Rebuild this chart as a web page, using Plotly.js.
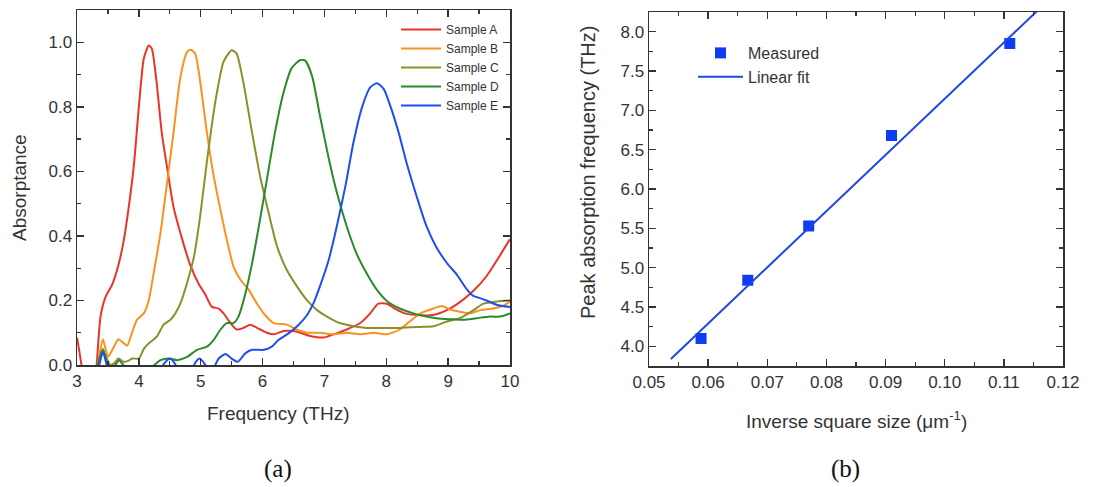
<!DOCTYPE html>
<html>
<head>
<meta charset="utf-8">
<script src="https://cdn.plot.ly/plotly-3.0.1.min.js"></script>
<style>html,body{margin:0;padding:0;background:#fff}#chart{width:1113px;height:487px}</style>
</head>
<body>
<div id="chart"></div>
<script>
// ---- Panel (a): absorptance spectra ----
const sampleNames = ["Sample A", "Sample B", "Sample C", "Sample D", "Sample E"];
const sampleColors = ["#e8342a", "#f7931e", "#8f8f2a", "#2b8a2b", "#1f4ef0"];

const freqA = [3.0,3.04,3.08,3.12,3.2,3.3,3.34,3.38,3.46,3.57,3.67,3.75,3.83,3.92,4.0,4.08,4.16,4.21,4.29,4.37,4.45,4.56,4.70,4.83,4.97,5.07,5.18,5.29,5.37,5.48,5.58,5.69,5.8,5.91,6.07,6.18,6.34,6.5,6.61,6.77,6.98,7.15,7.36,7.58,7.74,7.87,8.01,8.14,8.3,8.49,8.76,8.98,9.19,9.41,9.62,9.84,10.0];
const absA  = [0.085,0.04,-0.01,-0.05,-0.08,-0.03,0.06,0.15,0.21,0.25,0.31,0.38,0.48,0.62,0.80,0.95,0.99,0.98,0.87,0.72,0.62,0.49,0.39,0.31,0.25,0.22,0.18,0.175,0.16,0.13,0.11,0.115,0.125,0.115,0.10,0.095,0.105,0.105,0.10,0.09,0.085,0.095,0.11,0.13,0.16,0.19,0.19,0.175,0.16,0.155,0.155,0.17,0.195,0.23,0.275,0.34,0.39];

const freqB = [3.3,3.36,3.42,3.5,3.58,3.67,3.74,3.81,3.89,3.97,4.08,4.16,4.24,4.35,4.45,4.56,4.67,4.78,4.84,4.91,4.99,5.1,5.21,5.32,5.42,5.53,5.64,5.77,5.91,6.04,6.18,6.39,6.55,6.72,6.93,7.15,7.36,7.58,7.8,8.0,8.22,8.38,8.55,8.76,8.9,9.03,9.19,9.35,9.52,9.73,9.89,10.0];
const absB  = [-0.05,0.03,0.08,0.025,0.05,0.08,0.07,0.06,0.1,0.14,0.16,0.2,0.285,0.41,0.555,0.72,0.89,0.97,0.977,0.965,0.88,0.72,0.585,0.48,0.39,0.305,0.265,0.235,0.19,0.155,0.13,0.125,0.11,0.10,0.10,0.095,0.10,0.095,0.10,0.095,0.11,0.135,0.16,0.175,0.183,0.172,0.165,0.16,0.17,0.175,0.183,0.197];

const freqC = [3.3,3.36,3.42,3.48,3.54,3.6,3.67,3.75,3.82,3.89,4.0,4.08,4.16,4.29,4.4,4.51,4.59,4.67,4.78,4.89,4.99,5.1,5.24,5.37,5.5,5.58,5.69,5.83,5.96,6.1,6.23,6.39,6.55,6.72,6.88,7.04,7.25,7.47,7.68,7.95,8.22,8.55,8.76,8.98,9.19,9.41,9.57,9.79,10.0];
const absC  = [-0.05,0.02,0.05,0.02,0.0,0.005,0.02,0.01,0.012,0.02,0.02,0.05,0.067,0.088,0.125,0.14,0.16,0.19,0.255,0.335,0.46,0.63,0.82,0.94,0.975,0.965,0.875,0.72,0.585,0.47,0.37,0.295,0.245,0.2,0.17,0.15,0.13,0.12,0.115,0.115,0.115,0.118,0.12,0.135,0.145,0.17,0.19,0.197,0.2];

const freqD = [3.0,3.1,3.2,3.3,3.36,3.42,3.48,3.55,3.62,3.68,3.75,3.9,4.05,4.19,4.35,4.48,4.62,4.78,4.94,5.1,5.21,5.32,5.42,5.53,5.61,5.72,5.83,5.94,6.07,6.2,6.34,6.47,6.61,6.69,6.8,6.93,7.07,7.2,7.36,7.52,7.68,7.84,8.0,8.22,8.44,8.65,8.81,9.03,9.25,9.46,9.68,9.84,10.0];
const absD  = [0.0,-0.05,-0.08,-0.04,0.02,0.045,0.01,-0.02,0.0,0.015,0.0,-0.02,-0.03,-0.01,0.015,0.02,0.015,0.025,0.047,0.057,0.078,0.11,0.13,0.13,0.15,0.22,0.315,0.43,0.575,0.72,0.845,0.92,0.945,0.943,0.895,0.77,0.64,0.535,0.43,0.345,0.285,0.235,0.2,0.175,0.16,0.15,0.145,0.142,0.14,0.145,0.15,0.15,0.16];

const freqE = [3.3,3.36,3.42,3.48,3.55,3.8,4.1,4.35,4.44,4.51,4.58,4.66,4.86,4.92,4.98,5.03,5.1,5.2,5.29,5.4,5.5,5.6,5.72,5.83,6.02,6.15,6.26,6.42,6.58,6.72,6.82,6.93,7.07,7.2,7.34,7.47,7.61,7.74,7.85,7.96,8.07,8.2,8.33,8.49,8.65,8.81,8.98,9.14,9.3,9.4,9.5,9.62,9.79,10.0];
const absE  = [-0.05,0.0,0.04,0.0,-0.05,-0.06,-0.05,-0.01,0.012,0.02,0.005,-0.02,-0.01,0.01,0.02,0.012,-0.005,-0.01,0.02,0.034,0.02,0.01,0.036,0.047,0.047,0.057,0.078,0.098,0.124,0.155,0.19,0.245,0.326,0.43,0.555,0.69,0.80,0.86,0.873,0.855,0.80,0.72,0.625,0.523,0.43,0.365,0.316,0.28,0.235,0.215,0.208,0.2,0.186,0.18];

// ---- Panel (b): peak frequency vs inverse square size ----
const invSquareSize = [0.0588, 0.0667, 0.0770, 0.0910, 0.1110];
const peakFreq      = [4.10, 4.84, 5.53, 6.68, 7.85];
const fitX = [0.0537, 0.1160];
const fitY = [3.84, 8.29];

const freqs = [freqA, freqB, freqC, freqD, freqE];
const absVals = [absA, absB, absC, absD, absE];

const traces = sampleNames.map((name, i) => ({
  type: "scatter", mode: "lines", name: name,
  x: freqs[i], y: absVals[i], xaxis: "x", yaxis: "y",
  line: {color: sampleColors[i], width: 2, shape: "spline", smoothing: 0.6},
  legend: "legend", hoverinfo: "skip"
}));

traces.push({
  type: "scatter", mode: "markers", name: "Measured",
  x: invSquareSize, y: peakFreq, xaxis: "x2", yaxis: "y2",
  marker: {symbol: "square", size: 11, color: "#0d3cf2"},
  legend: "legend2", hoverinfo: "skip"
});
traces.push({
  type: "scatter", mode: "lines", name: "Linear fit",
  x: fitX, y: fitY, xaxis: "x2", yaxis: "y2",
  line: {color: "#1f45e8", width: 2},
  legend: "legend2", hoverinfo: "skip"
});

const W = 1113, H = 487;
const px = v => v / W;
const py = v => 1 - v / H;

const FONT = "Liberation Sans, Arial, sans-serif";
function makeAxis(extra) {
  return Object.assign({
    showgrid: false, zeroline: false, showline: true, linecolor: "#333", linewidth: 1.5,
    mirror: "ticks", ticks: "inside", ticklen: 7, tickwidth: 1.5, tickcolor: "#333",
    tickfont: {family: FONT, size: 17, color: "#333"}, fixedrange: true, automargin: false
  }, extra);
}

const layout = {
  width: W, height: H,
  margin: {l: 0, r: 0, t: 0, b: 0},
  paper_bgcolor: "#fff", plot_bgcolor: "#fff",
  font: {family: FONT, color: "#333", size: 17},
  xaxis: makeAxis({
    domain: [px(77), px(510)], range: [3, 10], dtick: 1, tick0: 3, anchor: "y",
    minor: {dtick: 0.5, ticks: "inside", ticklen: 4, tickwidth: 1.2, tickcolor: "#333"}
  }),
  yaxis: makeAxis({
    domain: [1 - 365 / H, 1 - 10 / H], range: [0, 1.1], dtick: 0.2, tick0: 0, tickformat: ".1f", anchor: "x",
    minor: {dtick: 0.1, ticks: "inside", ticklen: 4, tickwidth: 1.2, tickcolor: "#333"}
  }),
  xaxis2: makeAxis({
    domain: [px(649), px(1063)], range: [0.05, 0.12], dtick: 0.01, tick0: 0.05, tickformat: ".2f", anchor: "y2",
    minor: {dtick: 0.005, ticks: "inside", ticklen: 4, tickwidth: 1.2, tickcolor: "#333"}
  }),
  yaxis2: makeAxis({
    domain: [1 - 366 / H, 1 - 12 / H], range: [3.75, 8.25], dtick: 0.5, tick0: 4, tickformat: ".1f", anchor: "x2",
    minor: {dtick: 0.25, ticks: "inside", ticklen: 4, tickwidth: 1.2, tickcolor: "#333"}
  }),
  showlegend: true,
  legend: {
    x: px(396), y: py(15), xanchor: "left", yanchor: "top",
    bgcolor: "rgba(0,0,0,0)", borderwidth: 0,
    font: {family: FONT, size: 12, color: "#333"},
    tracegroupgap: 0, itemwidth: 40
  },
  legend2: {
    x: px(693), y: py(36), xanchor: "left", yanchor: "top",
    bgcolor: "rgba(0,0,0,0)", borderwidth: 0,
    font: {family: FONT, size: 16, color: "#333"},
    itemwidth: 45
  },
  annotations: [
    {text: "Absorptance", xref: "paper", yref: "paper", x: px(20), y: py(188), textangle: -90,
     showarrow: false, font: {family: FONT, size: 19, color: "#333"}, xanchor: "center", yanchor: "middle"},
    {text: "Frequency (THz)", xref: "paper", yref: "paper", x: px(278), y: py(413),
     showarrow: false, font: {family: FONT, size: 19, color: "#333"}, xanchor: "center", yanchor: "middle"},
    {text: "Peak absorption frequency (THz)", xref: "paper", yref: "paper", x: px(588), y: py(173), textangle: -90,
     showarrow: false, font: {family: FONT, size: 20, color: "#333"}, xanchor: "center", yanchor: "middle"},
    {text: "Inverse square size (μm<sup>-1</sup>)", xref: "paper", yref: "paper", x: px(856), y: py(420),
     showarrow: false, font: {family: FONT, size: 19, color: "#333"}, xanchor: "center", yanchor: "middle"},
    {text: "(a)", xref: "paper", yref: "paper", x: px(278), y: py(469),
     showarrow: false, font: {family: "Liberation Serif, Times New Roman, serif", size: 25, color: "#111"}, xanchor: "center", yanchor: "middle"},
    {text: "(b)", xref: "paper", yref: "paper", x: px(845), y: py(469),
     showarrow: false, font: {family: "Liberation Serif, Times New Roman, serif", size: 25, color: "#111"}, xanchor: "center", yanchor: "middle"}
  ]
};

Plotly.newPlot("chart", traces, layout, {displayModeBar: false, staticPlot: true});
</script>
</body>
</html>
